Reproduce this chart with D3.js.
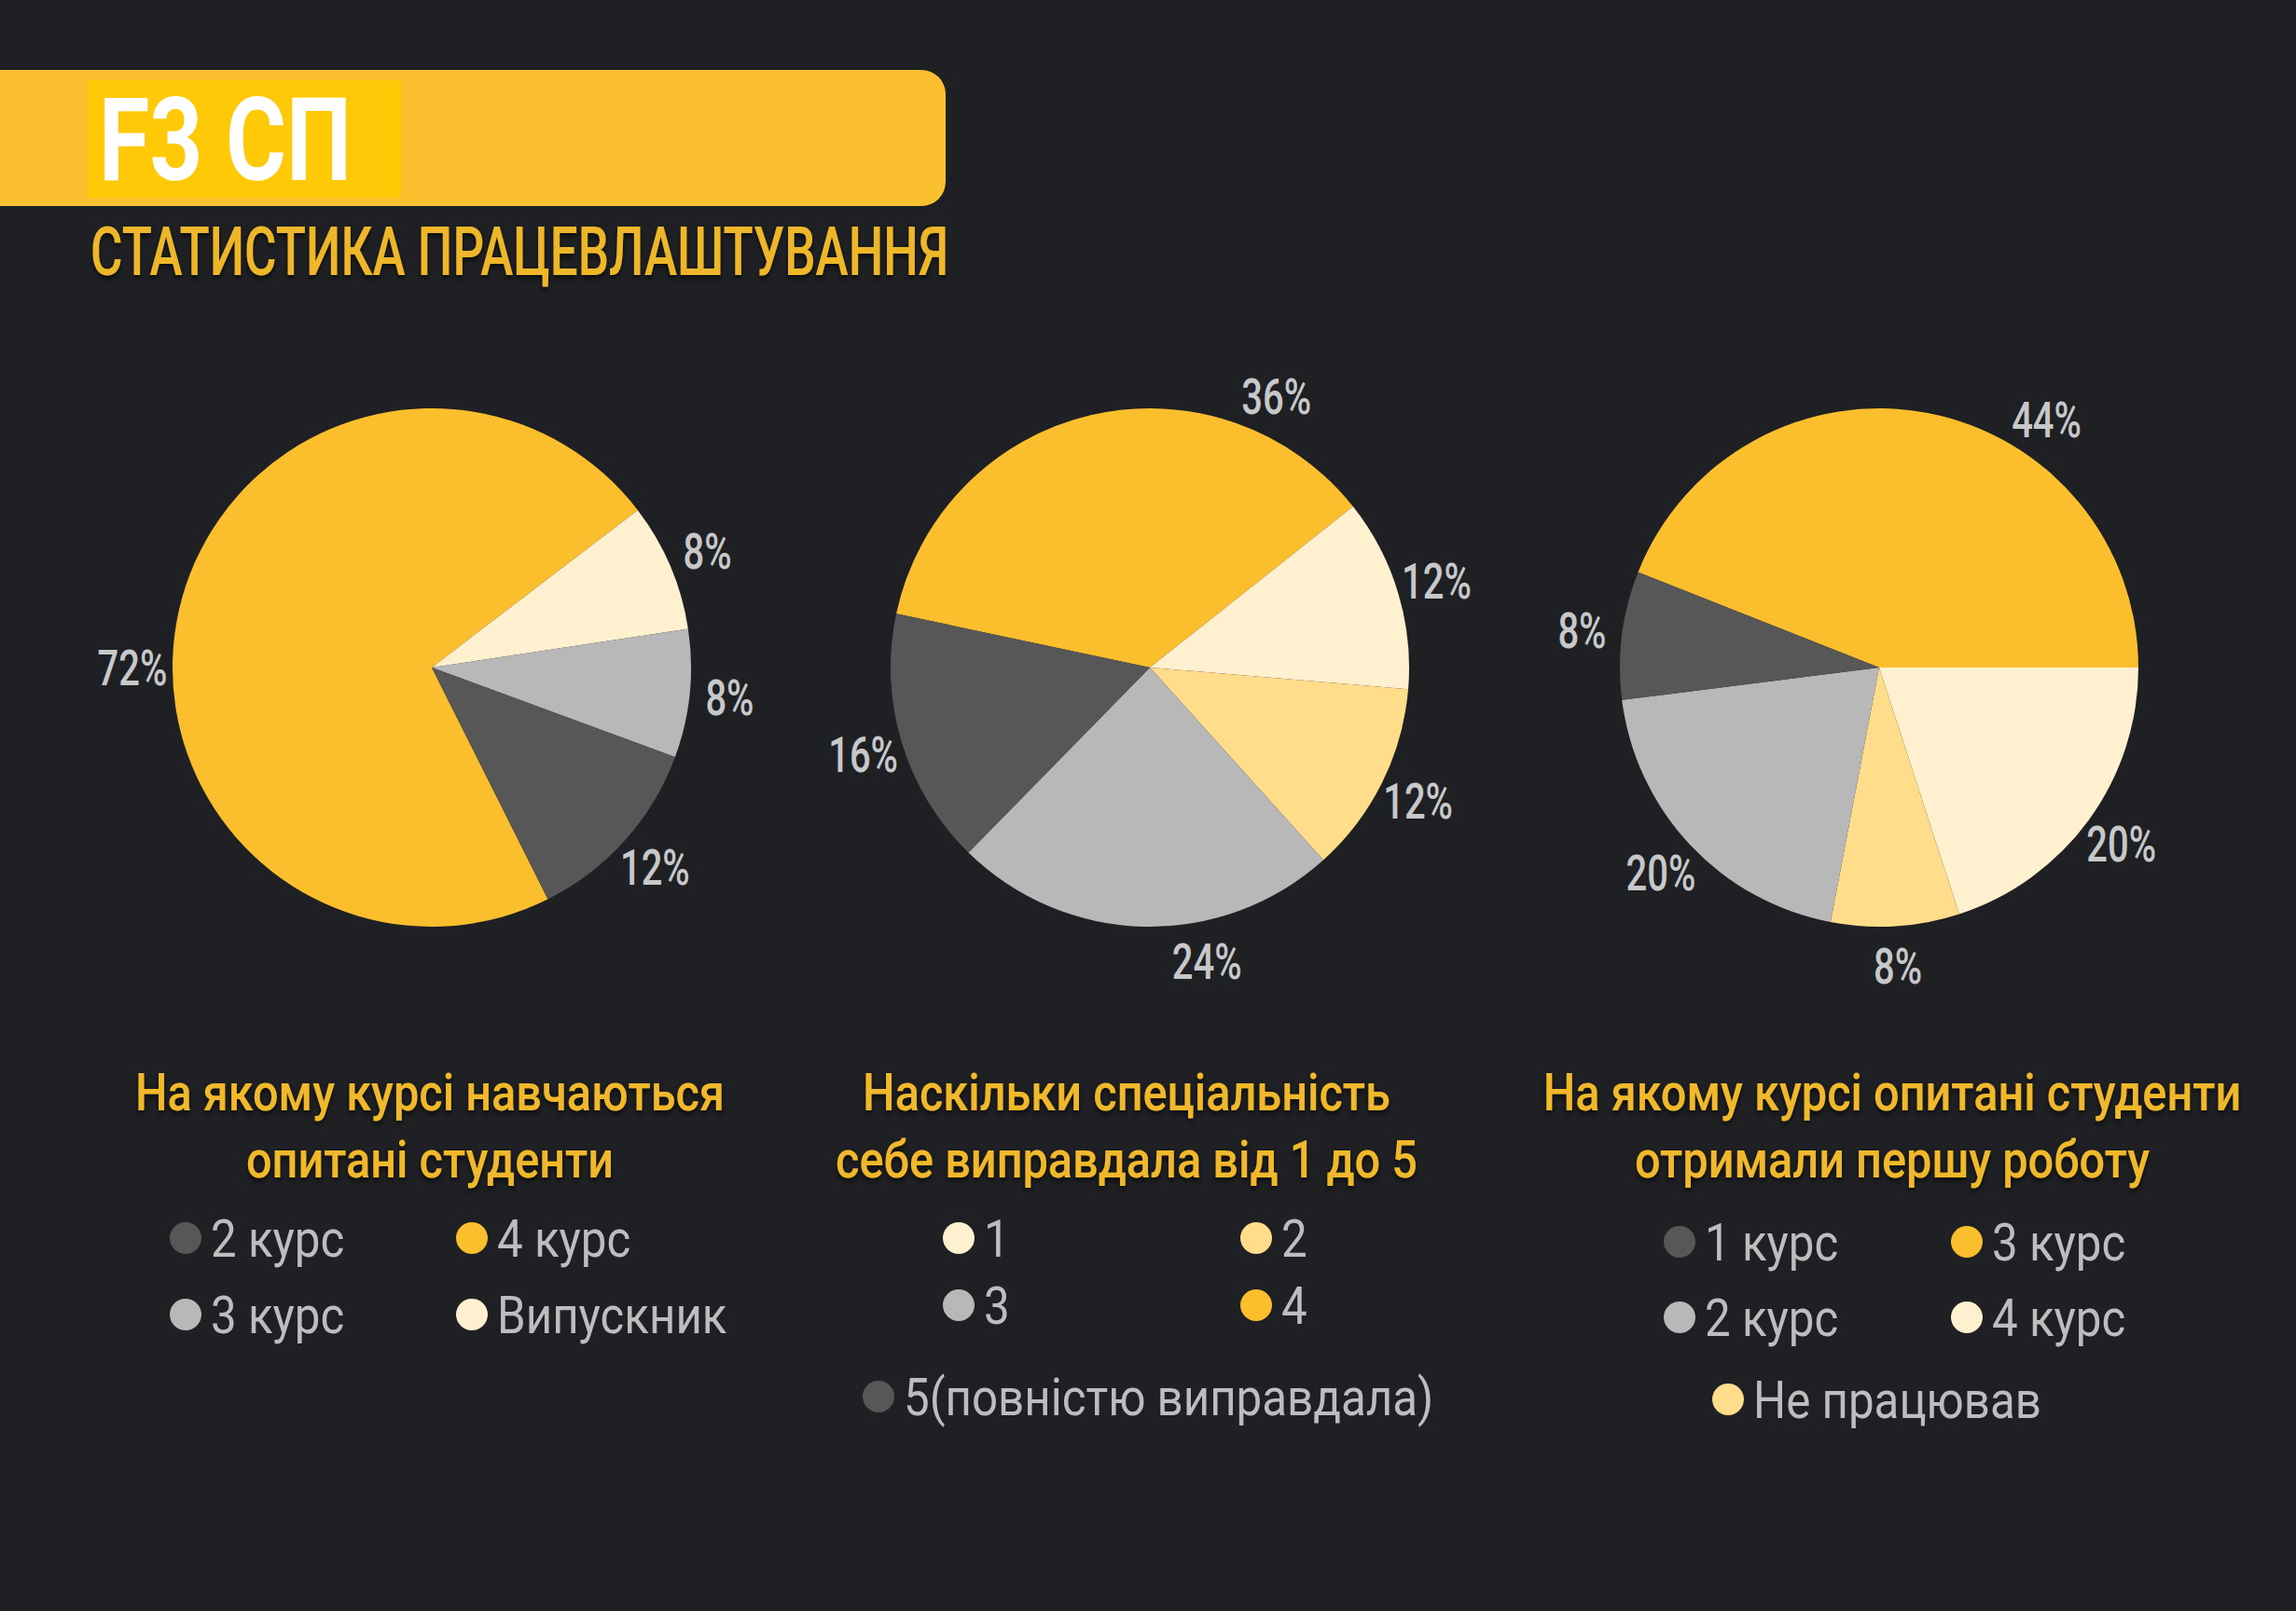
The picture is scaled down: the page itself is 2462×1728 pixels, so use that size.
<!DOCTYPE html>
<html>
<head>
<meta charset="utf-8">
<script src="https://cdn.jsdelivr.net/npm/d3@7"></script>
<style>
  html, body { margin: 0; padding: 0; background: #1f2023; }
  svg { display: block; }
  text { font-family: Roboto, "Noto Sans", "DejaVu Sans", sans-serif; }
</style>
</head>
<body>
<div id="chart"></div>
<script>
// ---- data ----
var courseCats = ["2 курс", "3 курс", "4 курс", "Випускник"];
var courseValues = [12, 8, 72, 8];
var courseSliceOrder = ["4 курс", "Випускник", "3 курс", "2 курс"];

var scoreCats = ["1", "2", "3", "4", "5(повністю виправдала)"];
var scoreValues = [12, 12, 24, 36, 16];
var scoreSliceOrder = ["4", "1", "2", "3", "5(повністю виправдала)"];

var jobCats = ["1 курс", "2 курс", "3 курс", "4 курс", "Не працював"];
var jobValues = [8, 20, 44, 20, 8];
var jobSliceOrder = ["3 курс", "4 курс", "Не працював", "2 курс", "1 курс"];

var titles = [
    ["На якому курсі навчаються", "опитані студенти"],
    ["Наскільки спеціальність", "себе виправдала від 1 до 5"],
    ["На якому курсі опитані студенти", "отримали першу роботу"]
];

// ---- colours ----
var C = {
    yellow: "#fbbf2d",
    cream: "#fff1cf",
    light: "#ffdd8a",
    grey: "#b8b8b8",
    dark: "#575757"
};
var courseColors = {"2 курс": C.dark, "3 курс": C.grey, "4 курс": C.yellow, "Випускник": C.cream};
var scoreColors = {"1": C.cream, "2": C.light, "3": C.grey, "4": C.yellow, "5(повністю виправдала)": C.dark};
var jobColors = {"1 курс": C.dark, "2 курс": C.grey, "3 курс": C.yellow, "4 курс": C.cream, "Не працював": C.light};

var W = 2462, H = 1728;
var R = 278;

var svg = d3.select("#chart").append("svg")
    .attr("width", W)
    .attr("height", H);

svg.append("rect").attr("width", W).attr("height", H).attr("fill", "#1f2023");

var defs = svg.append("defs");
var f = defs.append("filter").attr("id", "shadow").attr("x", "-10%").attr("y", "-20%").attr("width", "120%").attr("height", "150%");
f.append("feDropShadow").attr("dx", 0).attr("dy", 3).attr("stdDeviation", 3)
    .attr("flood-color", "#000").attr("flood-opacity", 0.7);

// condensed text helper
function ctext(sel, x, y, str, k) {
    return sel.append("text")
        .attr("transform", "translate(" + x + "," + y + ") scale(" + k + ",1)")
        .text(str);
}

// ---- header ----
svg.append("rect")
    .attr("x", -40).attr("y", 75)
    .attr("width", 1054).attr("height", 146)
    .attr("rx", 26)
    .attr("fill", "#fac030");
svg.append("rect")
    .attr("x", 94).attr("y", 86)
    .attr("width", 336).attr("height", 126)
    .attr("fill", "#ffc907");
ctext(svg, 106, 193, "F3 СП", 0.8)
    .attr("font-size", 124)
    .attr("font-weight", 700)
    .attr("fill", "#ffffff");

ctext(svg, 97, 295, "СТАТИСТИКА ПРАЦЕВЛАШТУВАННЯ", 0.725)
    .attr("font-size", 73)
    .attr("font-weight", 500)
    .attr("fill", "#eeb72a")
    .attr("filter", "url(#shadow)");

// ---- charts ----
var charts = [
    {
        cx: 463, cats: courseCats, values: courseValues, order: courseSliceOrder,
        colors: courseColors, start: 153.4, labelAngle: {"4 курс": 270},
        legend: [
            {y: 1328, items: [["2 курс", -264], ["4 курс", 43]]},
            {y: 1410, items: [["3 курс", -264], ["Випускник", 43]]}
        ]
    },
    {
        cx: 1233, cats: scoreCats, values: scoreValues, order: scoreSliceOrder,
        colors: scoreColors, start: 282, labelAngle: {"4": 25, "3": 169},
        legend: [
            {y: 1328, items: [["1", -205], ["2", 114]]},
            {y: 1400, items: [["3", -205], ["4", 114]]},
            {y: 1498, items: [["5(повністю виправдала)", -291]]}
        ]
    },
    {
        cx: 2015, cats: jobCats, values: jobValues, order: jobSliceOrder,
        colors: jobColors, start: 291.6, labelAngle: {"3 курс": 34},
        legend: [
            {y: 1332, items: [["1 курс", -214], ["3 курс", 94]]},
            {y: 1413, items: [["2 курс", -214], ["4 курс", 94]]},
            {y: 1501, items: [["Не працював", -162]]}
        ]
    }
];

var cy = 716;
var arc = d3.arc().innerRadius(0).outerRadius(R);
var labelR = R * 1.155;

charts.forEach(function(c, i) {
    var rows = c.order.map(function(name) {
        return {name: name, value: c.values[c.cats.indexOf(name)]};
    });
    var a0 = c.start * Math.PI / 180;
    var pie = d3.pie().sort(null).value(function(d) { return d.value; })
        .startAngle(a0).endAngle(a0 + 2 * Math.PI);
    var arcs = pie(rows);

    var g = svg.append("g").attr("transform", "translate(" + c.cx + "," + cy + ")");

    g.selectAll("path.slice")
        .data(arcs)
        .enter().append("path")
        .attr("class", "slice")
        .attr("d", arc)
        .attr("fill", function(d) { return c.colors[d.data.name]; });

    arcs.forEach(function(d) {
        var a = c.labelAngle[d.data.name] !== undefined
            ? c.labelAngle[d.data.name] * Math.PI / 180
            : (d.startAngle + d.endAngle) / 2;
        ctext(g, labelR * Math.sin(a), -labelR * Math.cos(a) + 19, d.data.value + "%", 0.74)
            .attr("text-anchor", "middle")
            .attr("font-size", 54)
            .attr("font-weight", 500)
            .attr("fill", "#c8c8cb");
    });

    // title
    titles[i].forEach(function(line, j) {
        ctext(svg, c.cx + [ -2, -25, 14 ][i], 1191 + j * 72, line, 0.87)
            .attr("text-anchor", "middle")
            .attr("font-size", 56)
            .attr("font-weight", 500)
            .attr("fill", "#f0b82a")
            .attr("filter", "url(#shadow)");
    });

    // legend
    c.legend.forEach(function(row) {
        row.items.forEach(function(it) {
            var x = c.cx + it[1];
            svg.append("circle")
                .attr("cx", x).attr("cy", row.y).attr("r", 17)
                .attr("fill", c.colors[it[0]]);
            ctext(svg, x + 27, row.y + 20, it[0], 0.88)
                .attr("font-size", 56)
                .attr("fill", "#bdbdbf");
        });
    });
});
</script>
</body>
</html>
